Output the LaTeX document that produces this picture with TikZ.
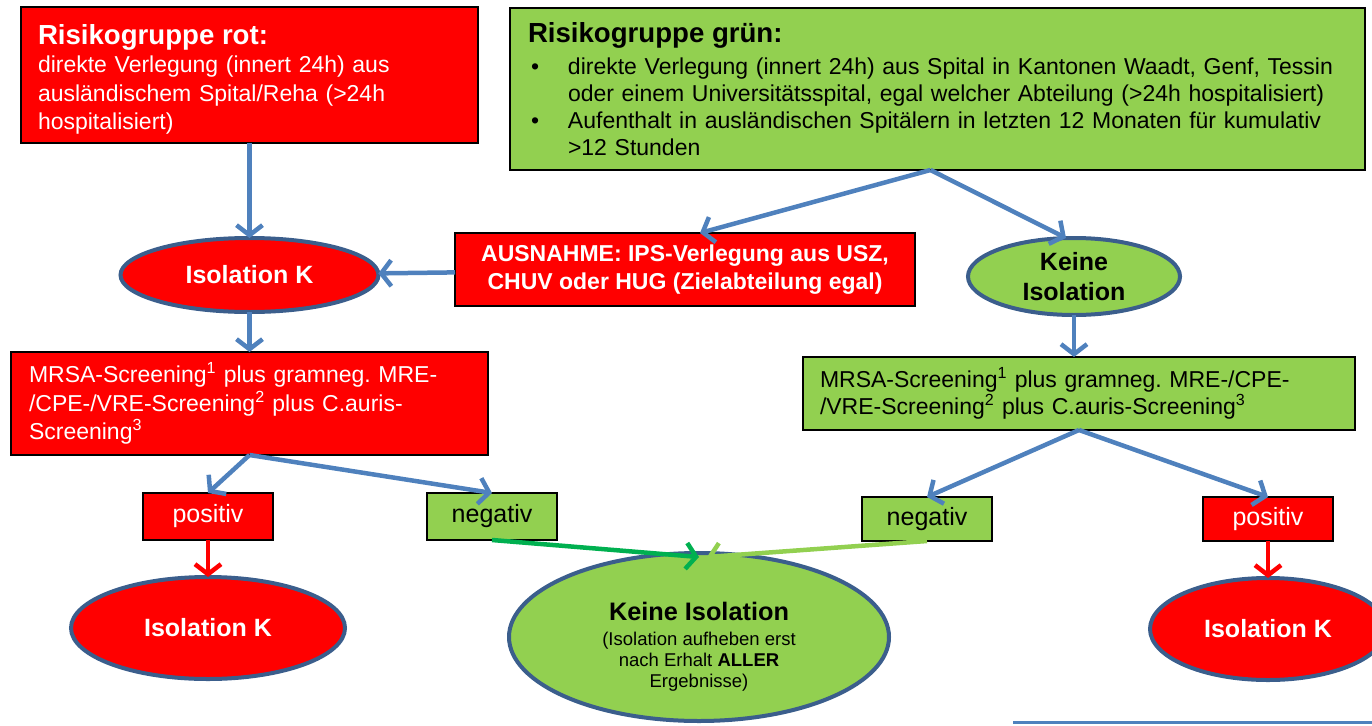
\documentclass[tikz,border=0pt]{standalone}
\usepackage{fontspec}
\setmainfont{Liberation Sans}
\usepackage{tikz}
\usetikzlibrary{positioning,arrows.meta,shapes.geometric}

\definecolor{rotfill}{HTML}{FF0000}
\definecolor{gruenfill}{HTML}{92D050}
\definecolor{pfeilblau}{HTML}{4F81BD}
\definecolor{randblau}{HTML}{3B5E8C}
\definecolor{dunkelgruen}{HTML}{00B050}

\newcommand{\titel}{\fontsize{27.6}{33}\selectfont\bfseries}
\newcommand{\aufz}{\hspace*{3pt}\makebox[37pt][l]{\textbullet}}
\frenchspacing

\begin{document}
\begin{tikzpicture}[x=1pt, y=1pt, node distance=40pt, auto,
    rotbox/.style={rectangle, draw=black, fill=rotfill, line width=2.5pt, outer sep=0pt, text=white, inner ysep=0pt, inner xsep=17pt, align=left, font=\fontsize{23}{28.5}\selectfont},
    gruenbox/.style={rectangle, draw=black, fill=gruenfill, line width=2.5pt, outer sep=0pt, text=black, inner ysep=0pt, inner xsep=17pt, align=left, font=\fontsize{23}{27}\selectfont},
    ergebnis/.style={rectangle, draw=black, line width=2pt, outer sep=0pt, minimum width=130pt, inner sep=0pt, font=\fontsize{25}{30}\selectfont},
    rotoval/.style={ellipse, draw=randblau, fill=rotfill, line width=4pt, outer sep=0pt, text=white, inner sep=0pt, align=center, font=\fontsize{25}{30}\selectfont\bfseries},
    gruenoval/.style={ellipse, draw=randblau, fill=gruenfill, line width=4pt, outer sep=0pt, text=black, inner sep=0pt, align=center, font=\fontsize{25}{30}\selectfont\bfseries},
    pfeil/.style={draw=pfeilblau, line width=4.5pt, -{Straight Barb[length=10pt,width=26pt]}},
    rotpfeil/.style={pfeil, draw=rotfill}]

    \useasboundingbox (0,0) rectangle (1372,-725);

    % Risikogruppe rot
    \node[rotbox, text width=423pt, minimum height=136pt] (rot) at (249.5,-75)
        {{\titel\rule{0pt}{29pt}Risikogruppe rot:}\\
         direkte Verlegung (innert 24h) aus\\
         ausländischem Spital/Reha (>24h\\
         hospitalisiert)};
    \node[rotoval, minimum width=258pt, minimum height=74pt, below=95pt of rot] (isoK) {Isolation K};
    \node[rotbox, text width=441pt, inner xsep=18pt, minimum height=103pt, below=40pt of isoK] (screenR)
        {MRSA-Screening\textsuperscript{1} plus gramneg. MRE-\\
         /CPE-/VRE-Screening\textsuperscript{2} plus C.auris-\\
         Screening\textsuperscript{3}};
    \node[ergebnis, fill=rotfill, text=white, minimum height=47pt, below=38pt of screenR, xshift=-41.5pt] (posL) {positiv};
    \node[ergebnis, fill=gruenfill, minimum height=47pt, below=38pt of screenR, xshift=242.5pt] (negL) {negativ};
    \node[rotoval, minimum width=274pt, minimum height=102pt, below=37pt of posL] (isoL) {Isolation K};

    % Risikogruppe gruen
    \node[gruenbox, text width=819pt, inner xsep=18pt, minimum height=162pt] (gruen) at (937.5,-89)
        {{\titel Risikogruppe grün:}\\[5pt]
         \aufz direkte Verlegung (innert 24h) aus Spital in Kantonen Waadt, Genf, Tessin\\
         \hspace*{40pt}oder einem Universitätsspital, egal welcher Abteilung (>24h hospitalisiert)\\
         \aufz Aufenthalt in ausländischen Spitälern in letzten 12 Monaten für kumulativ\\
         \hspace*{40pt}>12 Stunden};
    \node[rotbox, align=center, inner xsep=0pt, minimum width=460pt, minimum height=73pt, font=\fontsize{23}{28}\selectfont\bfseries] (ausn) at (685,-269.5)
        {AUSNAHME: IPS-Verlegung aus USZ,\\CHUV oder HUG (Zielabteilung egal)};
    \node[gruenoval, minimum width=212pt, minimum height=77pt] (keineK) at (1074,-276.5) {Keine\\Isolation};
    \node[gruenbox, text width=518pt, minimum height=73pt, below=42pt of keineK, xshift=5pt] (screenG)
        {MRSA-Screening\textsuperscript{1} plus gramneg. MRE-/CPE-\\
         /VRE-Screening\textsuperscript{2} plus C.auris-Screening\textsuperscript{3}};
    \node[ergebnis, fill=gruenfill, minimum height=44pt, below=67pt of screenG, xshift=-152pt] (negR) {negativ};
    \node[ergebnis, fill=rotfill, text=white, minimum height=44pt, below=67pt of screenG, xshift=189pt] (posR) {positiv};
    \node[rotoval, minimum width=236pt, minimum height=102pt, below=37pt of posR] (isoR) {Isolation K};

    % Ergebnis
    \node[gruenoval, minimum width=380pt, minimum height=168pt, font=\fontsize{18.5}{21}\selectfont] (keine) at (699,-637)
        {{\fontsize{25.3}{30}\selectfont\bfseries\rule{0pt}{38pt}Keine Isolation}\\[4pt]
         (Isolation aufheben erst\\
         nach Erhalt \textbf{ALLER}\\
         Ergebnisse)};

    % Pfeile
    \draw[pfeil] (rot) -- (isoK);
    \draw[pfeil] (isoK) -- (screenR);
    \draw[pfeil] (ausn) -- (isoK);
    \draw[pfeil] ([xshift=-7pt]gruen.south) -- ([xshift=15pt]ausn.north);
    \draw[pfeil] ([xshift=-7pt]gruen.south) -- ([xshift=-8pt]keineK.north);
    \draw[pfeil] (keineK.south) -- (keineK.south |- screenG.north);
    \draw[pfeil] (screenR.south) -- (posL.north);
    \draw[pfeil] (screenR.south) -- (negL.north);
    \draw[pfeil] (screenG.south) -- (negR.north);
    \draw[pfeil] (screenG.south) -- (posR.north);
    \draw[rotpfeil] (posL) -- (isoL);
    \draw[rotpfeil] (posR) -- (isoR);
    \draw[pfeil, draw=dunkelgruen] (negL.south) -- ([yshift=-4pt]keine.north);
    \draw[pfeil, draw=gruenfill] (negR.south) -- ([xshift=8pt,yshift=-4pt]keine.north);

    % Linie unten
    \coordinate (linie) at (1013,-722);
    \draw[pfeilblau, line width=3pt] (linie) -- ++(359,0);
\end{tikzpicture}
\end{document}
